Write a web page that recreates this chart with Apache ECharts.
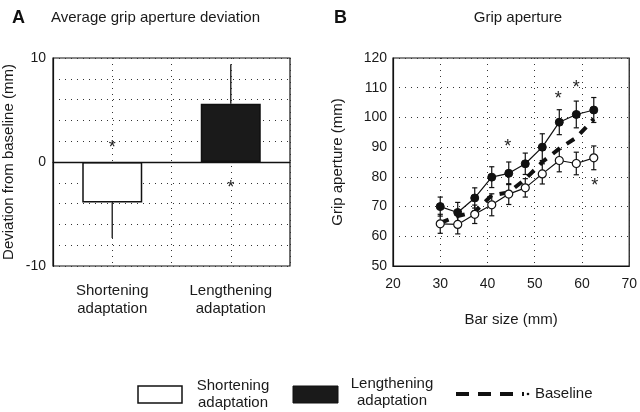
<!DOCTYPE html>
<html>
<head>
<meta charset="utf-8">
<script src="https://cdn.jsdelivr.net/npm/echarts@6/dist/echarts.min.js"></script>
<style>html,body{margin:0;padding:0;background:#fff;}#c{width:640px;height:412px;}</style>
</head>
<body>
<div id="c"></div>
<script>
// Panel A data
const barCategories = ['Shortening\nadaptation', 'Lengthening\nadaptation'];
const barPositions = [1, 3];
const barMeans = [-3.9, 5.6];
const barErrEnds = [-7.3, 9.4];
const barStarY = [1.7, -2.1];
const barColors = ['#ffffff', '#1a1a1a'];
const yTicksA = [-10, 0, 10];

// Panel B data
const barSizes = [30, 33.7, 37.3, 40.9, 44.5, 48.0, 51.6, 55.2, 58.8, 62.5];
const lengthening = [70.0, 68.0, 72.9, 79.9, 81.2, 84.4, 90.0, 98.4, 101.0, 102.5];
const lengtheningErr = [3.2, 3.4, 3.4, 3.5, 3.8, 3.6, 4.5, 4.2, 4.5, 4.2];
const shortening = [64.2, 64.0, 67.4, 70.6, 74.2, 76.3, 81.0, 85.5, 84.5, 86.4];
const shorteningErr = [3.2, 3.2, 3.1, 3.7, 3.5, 3.1, 3.4, 3.8, 3.8, 4.0];
const baseline = [64.5, 66.8, 68.2, 73.8, 74.8, 79.2, 85.0, 89.5, 93.2, 99.5];
const starsBx = [44.3, 55.0, 58.8, 62.7];
const starsBy = [91.3, 107.4, 111.3, 78.4];

const FONT = 'Liberation Sans, Arial, sans-serif';
const TXT = '#1a1a1a';
const chart = echarts.init(document.getElementById('c'));

const dotted = { show: true, lineStyle: { color: '#333', width: 1, type: [1, 5] } };

function starSeries(xAxisIndex, yAxisIndex, pts) {
  return {
    type: 'custom', xAxisIndex, yAxisIndex, z: 5,
    data: pts,
    renderItem: function (params, api) {
      const p = api.coord([api.value(0), api.value(1)]);
      return { type: 'text', style: { text: '*', x: p[0], y: p[1] + 4, fontSize: 18, fontFamily: FONT,
        fill: '#222', textAlign: 'center', textVerticalAlign: 'middle' } };
    }
  };
}

function errSeries(xs, ys, es, z) {
  return {
    type: 'custom', xAxisIndex: 1, yAxisIndex: 1, z: z,
    data: xs.map((x, i) => [x, ys[i] - es[i], ys[i] + es[i]]),
    renderItem: function (params, api) {
      const lo = api.coord([api.value(0), api.value(1)]);
      const hi = api.coord([api.value(0), api.value(2)]);
      const w = 2.6;
      const st = { stroke: '#111', lineWidth: 1.2 };
      return { type: 'group', children: [
        { type: 'line', shape: { x1: lo[0], y1: lo[1], x2: hi[0], y2: hi[1] }, style: st },
        { type: 'line', shape: { x1: lo[0] - w, y1: lo[1], x2: lo[0] + w, y2: lo[1] }, style: st },
        { type: 'line', shape: { x1: hi[0] - w, y1: hi[1], x2: hi[0] + w, y2: hi[1] }, style: st }
      ] };
    }
  };
}

const option = {
  animation: false,
  backgroundColor: '#fff',
  textStyle: { fontFamily: FONT },
  title: [
    { text: 'A', left: 7, top: 4, textStyle: { fontSize: 18, fontWeight: 'bold', color: '#111', fontFamily: FONT } },
    { text: 'Average grip aperture deviation', left: 46, top: 5, textStyle: { fontSize: 15, fontWeight: 'normal', color: TXT, fontFamily: FONT } },
    { text: 'B', left: 329, top: 4, textStyle: { fontSize: 18, fontWeight: 'bold', color: '#111', fontFamily: FONT } },
    { text: 'Grip aperture', left: 513, top: 5, textAlign: 'center', textStyle: { fontSize: 15, fontWeight: 'normal', color: TXT, fontFamily: FONT } }
  ],
  grid: [
    { left: 52, top: 58, width: 238, height: 208, show: true, borderColor: '#111', borderWidth: 1.2, backgroundColor: 'transparent' },
    { left: 393, top: 58, width: 239, height: 208, show: true, borderColor: '#111', borderWidth: 1.2, backgroundColor: 'transparent' }
  ],
  xAxis: [
    { type: 'value', gridIndex: 0, min: 0, max: 4, interval: 1,
      axisLine: { show: true, lineStyle: { color: '#111', width: 1.2 } }, axisTick: { show: false },
      splitLine: dotted,
      axisLabel: { margin: 16, fontSize: 15, lineHeight: 18, color: TXT, fontFamily: FONT,
        formatter: v => { const i = barPositions.indexOf(v); return i >= 0 ? barCategories[i] : ''; } } },
    { type: 'value', gridIndex: 1, min: 20, max: 70, interval: 10,
      axisLine: { show: true, lineStyle: { color: '#111', width: 1.2 } }, axisTick: { show: false },
      splitLine: dotted,
      axisLabel: { margin: 11, fontSize: 14, color: TXT, fontFamily: FONT },
      name: 'Bar size (mm)', nameLocation: 'middle', nameGap: 46,
      nameTextStyle: { fontSize: 15, color: TXT, fontFamily: FONT } }
  ],
  yAxis: [
    { type: 'value', gridIndex: 0, min: -10, max: 10, interval: 2,
      axisLine: { show: true, lineStyle: { color: '#111', width: 1.2 } }, axisTick: { show: false },
      splitLine: dotted,
      axisLabel: { margin: 7, fontSize: 14, color: TXT, fontFamily: FONT,
        formatter: v => yTicksA.indexOf(v) >= 0 ? String(v) : '' },
      name: 'Deviation from baseline (mm)', nameLocation: 'middle', nameGap: 37,
      nameTextStyle: { fontSize: 15, color: TXT, fontFamily: FONT } },
    { type: 'value', gridIndex: 1, min: 50, max: 120, interval: 10,
      axisLine: { show: true, lineStyle: { color: '#111', width: 1.2 } }, axisTick: { show: false },
      splitLine: dotted,
      axisLabel: { margin: 6, fontSize: 14, color: TXT, fontFamily: FONT },
      name: 'Grip aperture (mm)', nameLocation: 'middle', nameGap: 48,
      nameTextStyle: { fontSize: 15, color: TXT, fontFamily: FONT } }
  ],
  series: [
    // Panel A error bars (one-sided)
    { type: 'custom', xAxisIndex: 0, yAxisIndex: 0, z: 1,
      data: barPositions.map((x, i) => [x, barMeans[i], barErrEnds[i]]),
      renderItem: function (params, api) {
        const a = api.coord([api.value(0), api.value(1)]);
        const b = api.coord([api.value(0), api.value(2)]);
        return { type: 'line', shape: { x1: a[0], y1: a[1], x2: b[0], y2: b[1] }, style: { stroke: '#333', lineWidth: 1.5 } };
      } },
    { type: 'bar', xAxisIndex: 0, yAxisIndex: 0, barWidth: 60, z: 2,
      data: barPositions.map((x, i) => ({ value: [x, barMeans[i]], itemStyle: { color: barColors[i], borderColor: '#111', borderWidth: 1.5 } })),
      markLine: { silent: true, symbol: 'none', label: { show: false }, lineStyle: { color: '#111', width: 1.3, type: 'solid' },
        data: [{ yAxis: 0 }] } },
    starSeries(0, 0, barPositions.map((x, i) => [x, barStarY[i]])),

    // Panel B
    { type: 'line', name: 'Baseline', xAxisIndex: 1, yAxisIndex: 1, z: 2,
      data: barSizes.map((x, i) => [x, baseline[i]]), showSymbol: false, symbol: 'none',
      lineStyle: { color: '#111', width: 4, type: [9, 8] } },
    errSeries(barSizes, lengthening, lengtheningErr, 3),
    errSeries(barSizes, shortening, shorteningErr, 3),
    { type: 'line', name: 'Lengthening adaptation', xAxisIndex: 1, yAxisIndex: 1, z: 4,
      data: barSizes.map((x, i) => [x, lengthening[i]]), symbol: 'circle', symbolSize: 8,
      lineStyle: { color: '#111', width: 1.2 }, itemStyle: { color: '#111', borderColor: '#111', borderWidth: 1 } },
    { type: 'line', name: 'Shortening adaptation', xAxisIndex: 1, yAxisIndex: 1, z: 4,
      data: barSizes.map((x, i) => [x, shortening[i]]), symbol: 'circle', symbolSize: 8,
      lineStyle: { color: '#111', width: 1.2 }, itemStyle: { color: '#fff', borderColor: '#111', borderWidth: 1.2 } },
    starSeries(1, 1, starsBx.map((x, i) => [x, starsBy[i]]))
  ],
  graphic: [
    { type: 'rect', shape: { x: 138, y: 386, width: 44, height: 17 }, style: { fill: '#fff', stroke: '#111', lineWidth: 1.5 } },
    { type: 'text', style: { x: 233, y: 394, text: 'Shortening\nadaptation', fontSize: 15, lineHeight: 17, fontFamily: FONT, fill: TXT, textAlign: 'center', textVerticalAlign: 'middle' } },
    { type: 'rect', shape: { x: 293, y: 386, width: 45, height: 17 }, style: { fill: '#1a1a1a', stroke: '#111', lineWidth: 1 } },
    { type: 'text', style: { x: 392, y: 392, text: 'Lengthening\nadaptation', fontSize: 15, lineHeight: 17, fontFamily: FONT, fill: TXT, textAlign: 'center', textVerticalAlign: 'middle' } },
    { type: 'line', shape: { x1: 456, y1: 394, x2: 524, y2: 394 }, style: { stroke: '#111', lineWidth: 4, lineDash: [13, 9] } },
    { type: 'circle', shape: { cx: 528, cy: 394, r: 1.3 }, style: { fill: '#111' } },
    { type: 'text', style: { x: 535, y: 394, text: 'Baseline', fontSize: 15, fontFamily: FONT, fill: TXT, textAlign: 'left', textVerticalAlign: 'middle' } }
  ]
};
chart.setOption(option);
</script>
</body>
</html>
